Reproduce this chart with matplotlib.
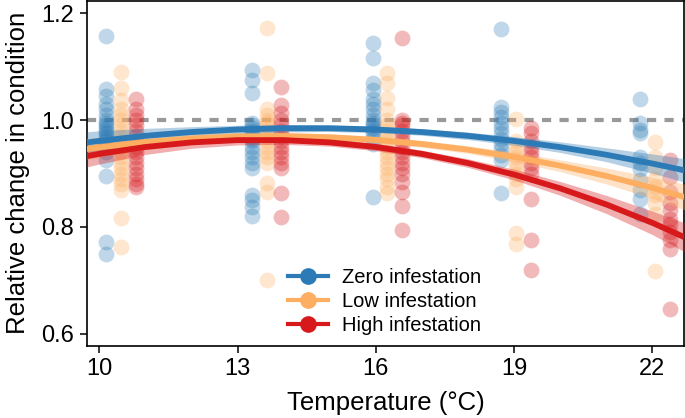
"""Relative change in condition vs temperature, by infestation level."""

import matplotlib
matplotlib.use("Agg")
import matplotlib.pyplot as plt
from matplotlib.lines import Line2D

plt.rcParams["font.family"] = ["Liberation Sans", "DejaVu Sans"]

# rearing temperatures (centre of each cluster) and group labels
TEMPS = [10.47, 13.63, 16.25, 19.04, 22.05]
GROUPS = ["Zero infestation", "Low infestation", "High infestation"]

# observed values per temperature, one list per group
ZERO_PTS = [
    [1.158, 1.058, 1.045, 1.03, 1.02, 1.01, 1.0, 0.995, 0.99, 0.985, 0.98, 0.975,
     0.97, 0.965, 0.96, 0.955, 0.95, 0.94, 0.925, 0.895, 0.772, 0.75],
    [1.094, 1.075, 1.05, 0.995, 0.99, 0.985, 0.98, 0.975, 0.97, 0.965, 0.96, 0.95,
     0.94, 0.93, 0.92, 0.91, 0.86, 0.85, 0.837, 0.82],
    [1.145, 1.116, 1.069, 1.056, 1.04, 1.03, 1.02, 1.01, 1.0, 0.995, 0.99, 0.985,
     0.98, 0.975, 0.965, 0.956, 0.856],
    [1.17, 1.025, 1.015, 1.005, 0.995, 0.985, 0.975, 0.965, 0.955, 0.945, 0.935,
     0.925, 0.863],
    [1.039, 0.994, 0.981, 0.975, 0.931, 0.92, 0.909, 0.8875, 0.87, 0.853, 0.825],
]
LOW_PTS = [
    [1.09, 1.06, 1.037, 1.02, 1.01, 1.0, 0.99, 0.98, 0.97, 0.96, 0.95, 0.94, 0.93,
     0.92, 0.91, 0.90, 0.89, 0.88, 0.87, 0.817, 0.762],
    [1.172, 1.088, 1.02, 1.01, 1.0, 0.995, 0.99, 0.98, 0.97, 0.96, 0.95, 0.94, 0.93,
     0.92, 0.882, 0.866, 0.70],
    [1.088, 1.069, 1.041, 1.02, 1.0, 0.99, 0.98, 0.97, 0.96, 0.95, 0.94, 0.93, 0.92,
     0.91, 0.90, 0.89, 0.875, 0.863],
    [1.002, 0.96, 0.95, 0.94, 0.93, 0.92, 0.91, 0.90, 0.89, 0.875, 0.788, 0.769],
    [0.959, 0.931, 0.91, 0.89, 0.875, 0.86, 0.845, 0.825, 0.717],
]
HIGH_PTS = [
    [1.04, 1.02, 1.01, 1.0, 0.99, 0.98, 0.97, 0.96, 0.95, 0.94, 0.93, 0.92, 0.91,
     0.90, 0.89, 0.88, 0.875],
    [1.062, 1.028, 1.013, 1.0, 0.99, 0.98, 0.97, 0.96, 0.95, 0.94, 0.93, 0.92, 0.91,
     0.864, 0.819],
    [1.153, 1.0, 0.995, 0.99, 0.98, 0.97, 0.96, 0.95, 0.94, 0.93, 0.92, 0.91, 0.90,
     0.884, 0.866, 0.84, 0.794],
    [0.986, 0.975, 0.96, 0.95, 0.94, 0.93, 0.92, 0.91, 0.90, 0.853, 0.776, 0.72],
    [0.925, 0.894, 0.866, 0.845, 0.831, 0.815, 0.806, 0.791, 0.775, 0.759, 0.647],
]

# fitted curves and their confidence half-widths
FIT_T = [9.73, 10, 11, 12, 13, 14, 15, 16, 17, 18, 19, 20, 21, 22, 22.69]
ZERO_FIT = [0.958, 0.961, 0.9705, 0.9776, 0.9823, 0.9847, 0.9847, 0.9823, 0.9776,
            0.9705, 0.961, 0.9493, 0.9351, 0.9186, 0.906]
LOW_FIT = [0.946, 0.949, 0.9587, 0.9653, 0.9691, 0.9699, 0.9679, 0.963, 0.9553,
           0.9446, 0.9311, 0.9146, 0.8954, 0.8732, 0.856]
HIGH_FIT = [0.9325, 0.9367, 0.9496, 0.9582, 0.9625, 0.9625, 0.9582, 0.9496, 0.9367,
            0.9195, 0.898, 0.8722, 0.8421, 0.8077, 0.781]
ZERO_CI = [0.020, 0.019, 0.014, 0.010, 0.008, 0.007, 0.006, 0.006, 0.006, 0.007,
           0.008, 0.010, 0.013, 0.018, 0.022]
LOW_CI = [0.020, 0.019, 0.014, 0.010, 0.008, 0.007, 0.006, 0.006, 0.006, 0.007,
          0.009, 0.011, 0.015, 0.020, 0.024]
HIGH_CI = [0.020, 0.019, 0.014, 0.011, 0.009, 0.008, 0.007, 0.007, 0.007, 0.008,
           0.010, 0.013, 0.017, 0.022, 0.027]

COLORS = ["#2C7BB6", "#FDAE61", "#D7191C"]
DODGE = [-0.32, 0.0, 0.32]


def main() -> None:
    fig = plt.figure(figsize=(6.85, 4.18), dpi=100)
    ax = fig.add_axes([0.1266, 0.173, 0.8724, 0.825])

    ax.axhline(1.0, color="#999999", lw=3, dashes=(2.2, 2.0), zorder=1)

    series = [
        (ZERO_PTS, ZERO_FIT, ZERO_CI),
        (LOW_PTS, LOW_FIT, LOW_CI),
        (HIGH_PTS, HIGH_FIT, HIGH_CI),
    ]
    for (pts, fit, ci), col, dx in zip(series, COLORS, DODGE):
        for t, vals in zip(TEMPS, pts):
            ax.scatter([t + dx] * len(vals), vals, s=130, color=col,
                       alpha=0.3, linewidths=0, zorder=2)

    for (pts, fit, ci), col in zip(series, COLORS):
        lo = [f - c for f, c in zip(fit, ci)]
        hi = [f + c for f, c in zip(fit, ci)]
        ax.fill_between(FIT_T, lo, hi, color=col, alpha=0.35, lw=0, zorder=3)
    for (pts, fit, ci), col in zip(series, COLORS):
        ax.plot(FIT_T, fit, color=col, lw=4.2, solid_capstyle="butt", zorder=4)

    ax.set_xlim(9.73, 22.69)
    ax.set_ylim(0.578, 1.223)
    ax.set_xticks([10, 13, 16, 19, 22])
    ax.set_yticks([0.6, 0.8, 1.0, 1.2])
    ax.set_yticklabels(["0.6", "0.8", "1.0", "1.2"])
    ax.tick_params(direction="out", length=5, width=1.1, labelsize=17,
                   pad=4)
    for sp in ax.spines.values():
        sp.set_linewidth(1.2)

    ax.set_xlabel("Temperature (°C)", fontsize=18.5, labelpad=8)
    ax.set_ylabel("Relative change in condition", fontsize=18.5, labelpad=8)

    handles = [Line2D([0], [0], color=c, lw=3, marker="o", markersize=11)
               for c in COLORS]
    ax.legend(handles, GROUPS, loc="lower left", bbox_to_anchor=(0.337, 0.03),
              frameon=False, fontsize=14.5, handlelength=2.0, borderpad=0,
              handletextpad=0.7, labelspacing=0.25, borderaxespad=0)

    fig.savefig("out.png", dpi=100)
    plt.close(fig)


if __name__ == "__main__":
    main()
